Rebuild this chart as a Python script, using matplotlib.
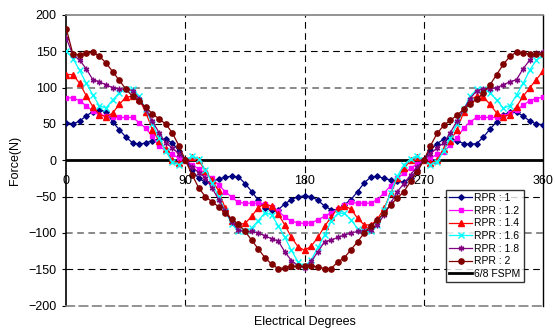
import matplotlib
matplotlib.use('Agg')
import matplotlib.pyplot as plt
import numpy as np

plt.rcParams['font.family'] = ['Liberation Sans', 'DejaVu Sans']

# electrical degrees, one sample every 5 degrees
degrees = np.arange(0, 361, 5)

rpr_1 = [52, 50, 54, 61, 67, 69, 67, 53, 42, 32, 24, 22, 24, 27, 29, 29, 24, 13, 0,
         -14, -25, -30, -29, -26, -23, -22, -23, -32, -43, -55, -65, -69, -68, -60, -54, -50, -49,
         -50, -55, -63, -68, -68, -61, -54, -43, -31, -23, -22, -25, -27, -29, -30, -25, -13, 0,
         14, 23, 29, 30, 27, 23, 22, 23, 32, 43, 53, 62, 67, 66, 61, 54, 50, 49]
rpr_12 = [86, 86, 82, 75, 68, 63, 61, 59, 59, 59, 59, 52, 44, 33, 19, 14, 8, 3, 0,
          -6, -12, -18, -25, -34, -43, -51, -58, -59, -59, -59, -60, -64, -70, -78, -84, -86, -87,
          -86, -82, -77, -72, -67, -62, -58, -59, -59, -59, -54, -45, -35, -25, -18, -11, -5, 0,
          3, 8, 12, 21, 31, 44, 53, 59, 59, 59, 59, 61, 65, 69, 76, 82, 85, 87]
rpr_14 = [118, 118, 106, 89, 74, 63, 60, 65, 77, 87, 88, 84, 66, 42, 27, 15, 0, -4, 0,
          4, 0, -15, -27, -42, -66, -84, -88, -87, -77, -65, -60, -63, -74, -89, -106, -119, -124,
          -118, -106, -91, -78, -66, -63, -67, -80, -89, -89, -81, -66, -45, -25, -11, 0, 4, 0,
          -4, 0, 15, 27, 42, 66, 84, 88, 87, 77, 65, 60, 63, 74, 88, 100, 111, 123]
rpr_16 = [150, 140, 124, 106, 90, 75, 72, 83, 93, 98, 98, 88, 70, 50, 31, 13, -2, -6, 0,
          6, 2, -13, -31, -50, -70, -88, -98, -98, -93, -83, -72, -75, -90, -106, -124, -140, -146,
          -137, -120, -103, -84, -73, -73, -82, -94, -98, -98, -89, -68, -45, -22, -6, 2, 6, 0,
          -6, -2, 13, 31, 50, 70, 88, 98, 98, 93, 83, 72, 75, 90, 106, 124, 138, 145]
rpr_18 = [168, 145, 138, 126, 111, 108, 104, 100, 98, 98, 96, 85, 70, 54, 38, 24, 17, 9, 0,
          -9, -17, -24, -38, -54, -70, -85, -96, -98, -98, -100, -104, -108, -111, -126, -138, -145, -148,
          -139, -126, -112, -110, -106, -103, -100, -98, -97, -96, -89, -75, -59, -43, -32, -20, -9, 0,
          9, 17, 24, 38, 54, 70, 85, 96, 98, 98, 100, 104, 108, 111, 126, 138, 147, 149]
rpr_2 = [181, 146, 145, 148, 149, 143, 134, 122, 110, 98, 88, 81, 73, 64, 57, 50, 38, 20, 0,
         -20, -38, -50, -57, -64, -73, -81, -88, -98, -110, -122, -134, -143, -149, -148, -146, -146, -146,
         -145, -147, -149, -149, -140, -134, -123, -112, -100, -91, -82, -73, -61, -52, -43, -29, -16, 0,
         20, 37, 48, 55, 62, 70, 78, 84, 93, 104, 118, 132, 143, 149, 148, 146, 146, 146]
fspm = [0] * len(degrees)

x_ticks = [0, 90, 180, 270, 360]
y_ticks = [-200, -150, -100, -50, 0, 50, 100, 150, 200]

fig = plt.figure(figsize=(5.55, 3.33), dpi=100)
ax = fig.add_axes([0.1195, 0.0823, 0.8589, 0.8727])

# dashed grid
for v in [90, 180, 270]:
    ax.axvline(v, color='black', lw=0.8, dashes=(6, 4), zorder=1)
for v in [-150, -50, 50, 150]:
    ax.axhline(v, color='black', lw=0.8, dashes=(6, 4), zorder=1)
for v in [-100, 100]:
    ax.axhline(v, color='#808080', lw=1.3, dashes=(3.7, 2.5), zorder=1)

ax.plot(degrees, rpr_1, color='#000080', lw=0.9, marker='D', ms=2.8, label='RPR : 1', zorder=3)
ax.plot(degrees, rpr_12, color='#FF00FF', lw=0.9, marker='s', ms=3.5, label='RPR : 1.2', zorder=3)
ax.plot(degrees, rpr_14, color='#FF0000', lw=0.9, marker='^', ms=3.8, label='RPR : 1.4', zorder=3)
ax.plot(degrees, rpr_16, color='#00FFFF', lw=0.9, marker='x', ms=3.8, mew=1, label='RPR : 1.6', zorder=3)
ax.plot(degrees, rpr_18, color='#800080', lw=0.9, marker=(6, 2, 0), ms=4, mew=1, label='RPR : 1.8', zorder=3)
ax.plot(degrees, rpr_2, color='#800000', lw=0.9, marker='o', ms=3.8, label='RPR : 2', zorder=3)
ax.plot(degrees, fspm, color='black', lw=2, label='6/8 FSPM', zorder=2)

ax.set_xlim(0, 360)
ax.set_ylim(-200, 200)
ax.set_xticks([])
ax.set_yticks(y_ticks)
ax.tick_params(axis='y', direction='out', length=3, width=0.8, pad=4, labelsize=9)

for v in x_ticks:
    ax.text(v, -28, str(v), ha='center', va='center', fontsize=9)

ax.spines['left'].set_color('black')
ax.spines['left'].set_linewidth(1.2)
ax.spines['right'].set_color('black')
ax.spines['right'].set_linewidth(1)
ax.spines['top'].set_color('#808080')
ax.spines['top'].set_linewidth(1.2)
ax.spines['bottom'].set_color('#808080')
ax.spines['bottom'].set_linewidth(1.2)
ax.spines['bottom'].set_linestyle((0, (5, 3)))

fig.text(15 / 555, 1 - 160 / 333, 'Force(N)', rotation=90, ha='center', va='center', fontsize=9)
fig.text(304.5 / 555, 1 - 322 / 333, 'Electrical Degrees', ha='center', va='center', fontsize=9)

leg = ax.legend(loc='upper left', bbox_to_anchor=(446 / 555, 1 - 190 / 333),
                bbox_transform=fig.transFigure, fontsize=7.5, frameon=True, fancybox=False,
                numpoints=1, handlelength=2.2, handletextpad=0.2, labelspacing=0.25,
                borderpad=0.3, borderaxespad=0)
leg.get_frame().set_edgecolor('black')
leg.get_frame().set_linewidth(1)
leg.set_zorder(5)

fig.savefig('out.png', dpi=100)
